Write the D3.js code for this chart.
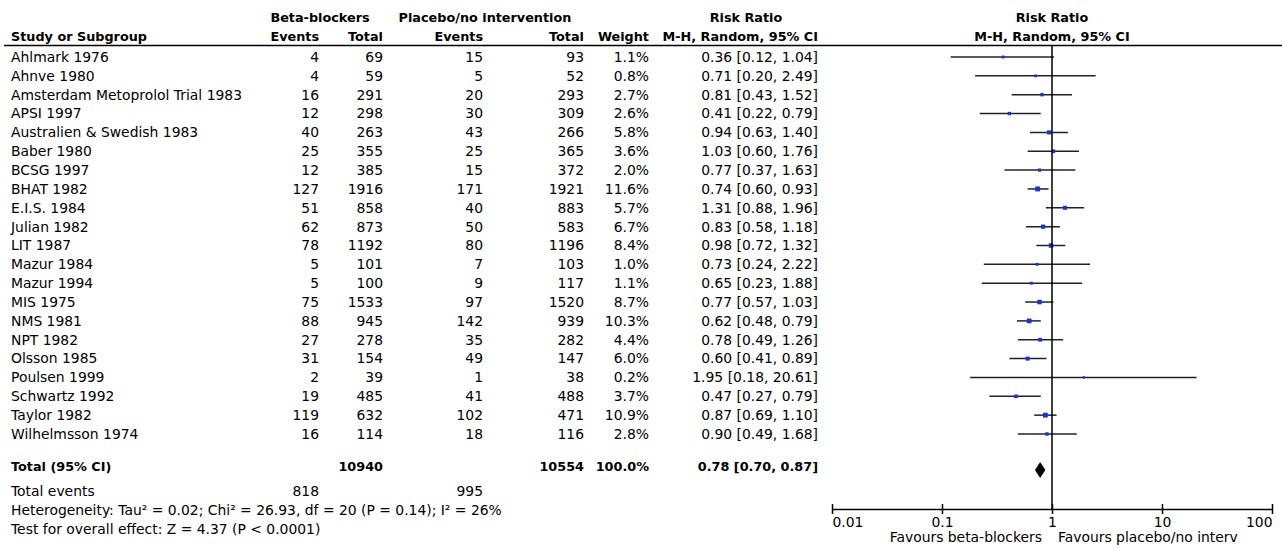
<!DOCTYPE html>
<html>
<head>
<meta charset="utf-8">
<script src="https://cdn.jsdelivr.net/npm/d3@7"></script>
<style>
  body { margin: 0; background: #fff; }
  text { font-family: "DejaVu Sans", Verdana, sans-serif; font-size: 13.9px; fill: #000; }
  .b { font-weight: bold; font-size: 12.8px; }
</style>
</head>
<body>
<div id="chart"></div>
<script>
// study data
var studies = ["Ahlmark 1976", "Ahnve 1980", "Amsterdam Metoprolol Trial 1983", "APSI 1997",
  "Australien & Swedish 1983", "Baber 1980", "BCSG 1997", "BHAT 1982", "E.I.S. 1984", "Julian 1982",
  "LIT 1987", "Mazur 1984", "Mazur 1994", "MIS 1975", "NMS 1981", "NPT 1982", "Olsson 1985",
  "Poulsen 1999", "Schwartz 1992", "Taylor 1982", "Wilhelmsson 1974"];
var bbEvents = [4, 4, 16, 12, 40, 25, 12, 127, 51, 62, 78, 5, 5, 75, 88, 27, 31, 2, 19, 119, 16];
var bbTotal = [69, 59, 291, 298, 263, 355, 385, 1916, 858, 873, 1192, 101, 100, 1533, 945, 278, 154, 39, 485, 632, 114];
var plEvents = [15, 5, 20, 30, 43, 25, 15, 171, 40, 50, 80, 7, 9, 97, 142, 35, 49, 1, 41, 102, 18];
var plTotal = [93, 52, 293, 309, 266, 365, 372, 1921, 883, 583, 1196, 103, 117, 1520, 939, 282, 147, 38, 488, 471, 116];
var weights = [1.1, 0.8, 2.7, 2.6, 5.8, 3.6, 2.0, 11.6, 5.7, 6.7, 8.4, 1.0, 1.1, 8.7, 10.3, 4.4, 6.0, 0.2, 3.7, 10.9, 2.8];
var rr = [0.36, 0.71, 0.81, 0.41, 0.94, 1.03, 0.77, 0.74, 1.31, 0.83, 0.98, 0.73, 0.65, 0.77, 0.62, 0.78, 0.60, 1.95, 0.47, 0.87, 0.90];
var lo = [0.12, 0.20, 0.43, 0.22, 0.63, 0.60, 0.37, 0.60, 0.88, 0.58, 0.72, 0.24, 0.23, 0.57, 0.48, 0.49, 0.41, 0.18, 0.27, 0.69, 0.49];
var hi = [1.04, 2.49, 1.52, 0.79, 1.40, 1.76, 1.63, 0.93, 1.96, 1.18, 1.32, 2.22, 1.88, 1.03, 0.79, 1.26, 0.89, 20.61, 0.79, 1.10, 1.68];

// pooled result
var total = { bbTotal: 10940, plTotal: 10554, weight: 100.0, rr: 0.78, lo: 0.70, hi: 0.87, bbEvents: 818, plEvents: 995 };
var axisTicks = [0.01, 0.1, 1, 10, 100];
var heterogeneity = "Heterogeneity: Tau\u00b2 = 0.02; Chi\u00b2 = 26.93, df = 20 (P = 0.14); I\u00b2 = 26%";
var overallTest = "Test for overall effect: Z = 4.37 (P < 0.0001)";

var width = 1282, height = 548;

var svg = d3.select("#chart").append("svg")
  .attr("width", width)
  .attr("height", height);

var f2 = d3.format(".2f");
var ciText = function(r, l, h) { return f2(r) + " [" + f2(l) + ", " + f2(h) + "]"; };

// column right edges
var col = { study: 11, bbE: 319, bbT: 383, plE: 483, plT: 584, w: 649, rr: 818 };

var y = d3.scalePoint().domain(studies).range([57, 434]);
var x = d3.scaleLog().domain([0.01, 100]).range([832, 1272]);

// header
svg.append("text").attr("class", "b").attr("x", 320).attr("y", 22).attr("text-anchor", "middle").text("Beta-blockers");
svg.append("text").attr("class", "b").attr("x", 485).attr("y", 22).attr("text-anchor", "middle").text("Placebo/no intervention");
svg.append("text").attr("class", "b").attr("x", 746).attr("y", 22).attr("text-anchor", "middle").text("Risk Ratio");
svg.append("text").attr("class", "b").attr("x", x(1)).attr("y", 22).attr("text-anchor", "middle").text("Risk Ratio");

var head2 = [
  [col.study, "start", "Study or Subgroup"],
  [col.bbE, "end", "Events"],
  [col.bbT, "end", "Total"],
  [col.plE, "end", "Events"],
  [col.plT, "end", "Total"],
  [col.w, "end", "Weight"],
  [col.rr, "end", "M-H, Random, 95% CI"]
];
head2.forEach(function(h) {
  svg.append("text").attr("class", "b").attr("x", h[0]).attr("y", 41).attr("text-anchor", h[1]).text(h[2]);
});
svg.append("text").attr("class", "b").attr("x", x(1)).attr("y", 41).attr("text-anchor", "middle").text("M-H, Random, 95% CI");

svg.append("line")
  .attr("x1", 4).attr("x2", width).attr("y1", 45.5).attr("y2", 45.5)
  .attr("stroke", "#000").attr("stroke-width", 1.5);

// rows
var rows = studies.map(function(s, i) {
  return { name: s, bbE: bbEvents[i], bbT: bbTotal[i], plE: plEvents[i], plT: plTotal[i],
    w: weights[i], rr: rr[i], lo: lo[i], hi: hi[i] };
});

var row = svg.selectAll("g.row").data(rows).enter().append("g")
  .attr("class", "row")
  .attr("transform", function(d) { return "translate(0," + y(d.name) + ")"; });

row.append("text").attr("x", col.study).attr("dy", "0.35em").text(function(d) { return d.name; });
row.append("text").attr("x", col.bbE).attr("dy", "0.35em").attr("text-anchor", "end").text(function(d) { return d.bbE; });
row.append("text").attr("x", col.bbT).attr("dy", "0.35em").attr("text-anchor", "end").text(function(d) { return d.bbT; });
row.append("text").attr("x", col.plE).attr("dy", "0.35em").attr("text-anchor", "end").text(function(d) { return d.plE; });
row.append("text").attr("x", col.plT).attr("dy", "0.35em").attr("text-anchor", "end").text(function(d) { return d.plT; });
row.append("text").attr("x", col.w).attr("dy", "0.35em").attr("text-anchor", "end").text(function(d) { return d.w.toFixed(1) + "%"; });
row.append("text").attr("x", col.rr).attr("dy", "0.35em").attr("text-anchor", "end").text(function(d) { return ciText(d.rr, d.lo, d.hi); });

// no-effect line
svg.append("line")
  .attr("x1", x(1)).attr("x2", x(1)).attr("y1", 45).attr("y2", 509)
  .attr("stroke", "#000").attr("stroke-width", 1.5);

row.append("line")
  .attr("x1", function(d) { return x(d.lo); })
  .attr("x2", function(d) { return x(d.hi); })
  .attr("y1", 0).attr("y2", 0)
  .attr("stroke", "#222").attr("stroke-width", 1.5);

var side = function(w) { return 2 + 0.85 * Math.sqrt(w); };
row.append("rect")
  .attr("x", function(d) { return x(d.rr) - side(d.w) / 2; })
  .attr("y", function(d) { return -side(d.w) / 2; })
  .attr("width", function(d) { return side(d.w); })
  .attr("height", function(d) { return side(d.w); })
  .attr("fill", "#1535d8");

// total row
var ty = 467;
svg.append("text").attr("class", "b").attr("x", col.study).attr("y", ty).attr("dy", "0.35em").text("Total (95% CI)");
svg.append("text").attr("class", "b").attr("x", col.bbT).attr("y", ty).attr("dy", "0.35em").attr("text-anchor", "end").text(total.bbTotal);
svg.append("text").attr("class", "b").attr("x", col.plT).attr("y", ty).attr("dy", "0.35em").attr("text-anchor", "end").text(total.plTotal);
svg.append("text").attr("class", "b").attr("x", col.w).attr("y", ty).attr("dy", "0.35em").attr("text-anchor", "end").text(total.weight.toFixed(1) + "%");
svg.append("text").attr("class", "b").attr("x", col.rr).attr("y", ty).attr("dy", "0.35em").attr("text-anchor", "end").text(ciText(total.rr, total.lo, total.hi));

var dy = 470;
svg.append("path")
  .attr("d", "M" + x(total.lo) + "," + dy + "L" + x(total.rr) + "," + (dy - 8) + "L" + x(total.hi) + "," + dy + "L" + x(total.rr) + "," + (dy + 8) + "Z")
  .attr("fill", "#000");

svg.append("text").attr("x", col.study).attr("y", 491).attr("dy", "0.35em").text("Total events");
svg.append("text").attr("x", col.bbE).attr("y", 491).attr("dy", "0.35em").attr("text-anchor", "end").text(total.bbEvents);
svg.append("text").attr("x", col.plE).attr("y", 491).attr("dy", "0.35em").attr("text-anchor", "end").text(total.plEvents);
svg.append("text").attr("x", col.study).attr("y", 510).attr("dy", "0.35em").text(heterogeneity);
svg.append("text").attr("x", col.study).attr("y", 529).attr("dy", "0.35em").text(overallTest);

// axis
var axis = svg.append("g")
  .attr("transform", "translate(0,509)")
  .call(d3.axisBottom(x).tickValues(axisTicks).tickFormat(d3.format("~g")).tickSizeInner(5).tickSizeOuter(0).tickPadding(3));
axis.select(".domain").attr("stroke", "#000").attr("stroke-width", 1.5);
axis.selectAll(".tick line").attr("y1", -5).attr("y2", 5).attr("stroke", "#000").attr("stroke-width", 1.5);
axis.selectAll(".tick text")
  .style("font-family", "DejaVu Sans, Verdana, sans-serif").style("font-size", "13.9px").attr("fill", "#000")
  .attr("text-anchor", function(d, i) { return i === 0 ? "start" : (i === axisTicks.length - 1 ? "end" : "middle"); });

svg.append("text").attr("x", x(1) - 10).attr("y", 537).attr("dy", "0.35em").attr("text-anchor", "end").text("Favours beta-blockers");
svg.append("text").attr("x", x(1) + 6).attr("y", 537).attr("dy", "0.35em").text("Favours placebo/no interv");
</script>
</body>
</html>
